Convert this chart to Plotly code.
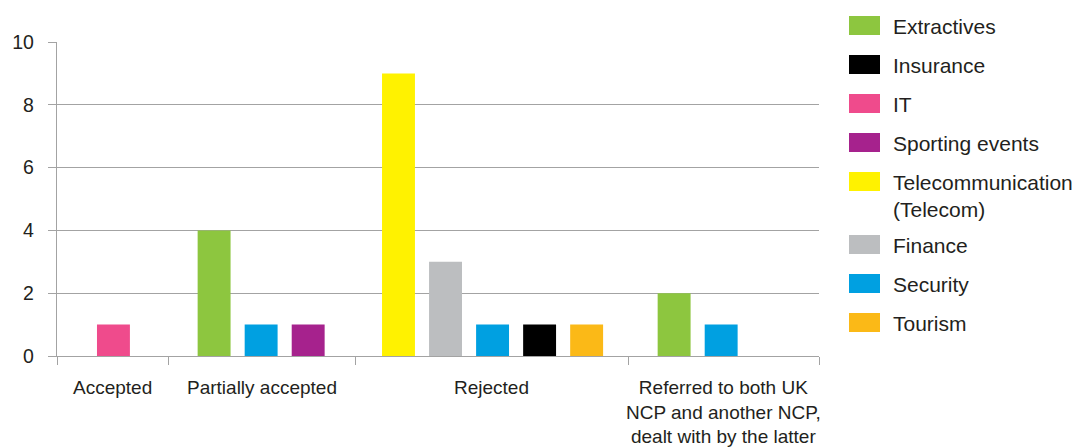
import plotly.graph_objects as go

# ---------------- data ----------------
categories = [
    "Accepted",
    "Partially accepted",
    "Rejected",
    "Referred to both UK<br>NCP and another NCP,<br>dealt with by the latter",
]
series_names = ["Extractives", "Insurance", "IT", "Sporting events",
                "Telecommunication<br>(Telecom)", "Finance", "Security", "Tourism"]
extractives = [0, 4, 0, 2]
insurance = [0, 0, 1, 0]
it = [1, 0, 0, 0]
sporting_events = [0, 1, 0, 0]
telecom = [0, 0, 9, 0]
finance = [0, 0, 3, 0]
security = [0, 1, 1, 1]
tourism = [0, 0, 1, 0]
series_values = [extractives, insurance, it, sporting_events, telecom, finance, security, tourism]
y_ticks = [0, 2, 4, 6, 8, 10]

# ---------------- style / layout ----------------
series_colors = ["#8DC63F", "#000000", "#EF4B8C", "#A6228D",
                 "#FFF200", "#BCBEC0", "#00A0E1", "#FBB917"]
# left-to-right order of bars inside every category group (index into series)
bar_order = [0, 4, 5, 6, 1, 7, 3, 2]
# group geometry in "slot" units (one slot = one bar position)
group_span = [2.37, 3.97, 5.81, 4.05]
group_lead = [0.70, 0.47, 0.42, 0.47]
bar_width = 0.70

text_color = "#231F20"
line_color = "#A3A3A3"
FONT = "Liberation Sans, Arial, sans-serif"

# group boundaries
bounds = [0.0]
for s in group_span:
    bounds.append(bounds[-1] + s)

# compute bar positions per series
xs = {i: [] for i in range(len(series_names))}
ys = {i: [] for i in range(len(series_names))}
for g in range(len(categories)):
    k = 0
    for si in bar_order:
        v = series_values[si][g]
        if v:
            xs[si].append(bounds[g] + group_lead[g] + 0.5 + k)
            ys[si].append(v)
            k += 1

fig = go.Figure()
for si, name in enumerate(series_names):
    fig.add_trace(go.Bar(
        x=xs[si], y=ys[si], name=name.replace("<br>", " "),
        marker=dict(color=series_colors[si], line=dict(width=0)),
        width=bar_width, showlegend=False,
    ))

# category labels
annotations = []
for g, cat in enumerate(categories):
    annotations.append(dict(
        x=(bounds[g] + bounds[g + 1]) / 2, xref="x",
        y=0, yref="paper", yshift=-19, yanchor="top", xanchor="center",
        text=cat, showarrow=False, align="center",
        font=dict(family=FONT, size=19, color=text_color),
    ))

# custom legend
shapes = []
row_y = 25.5
plot_top = 42
for si, name in enumerate(series_names):
    nlines = name.count("<br>") + 1
    shapes.append(dict(
        type="rect", xref="paper", yref="paper",
        xsizemode="pixel", ysizemode="pixel", xanchor=1, yanchor=1,
        x0=30, x1=61, y0=plot_top - row_y - 9.5, y1=plot_top - row_y + 9.5,
        fillcolor=series_colors[si], line=dict(width=0),
    ))
    block_center = row_y + (nlines - 1) * 13
    annotations.append(dict(
        x=1, xref="paper", xshift=72, xanchor="left",
        y=1, yref="paper", yshift=plot_top - block_center - 1, yanchor="middle",
        text=name, showarrow=False, align="left",
        font=dict(family=FONT, size=21, color=text_color),
    ))
    row_y += 39 + (nlines - 1) * 24

fig.update_layout(
    width=1079, height=448,
    margin=dict(l=51, r=260, t=42, b=92),
    plot_bgcolor="white", paper_bgcolor="white",
    barmode="overlay",
    shapes=shapes, annotations=annotations,
    font=dict(family=FONT, color=text_color),
    showlegend=False,
)
fig.update_xaxes(
    range=[bounds[0], bounds[-1]], showgrid=False, zeroline=False,
    showline=True, linecolor=line_color, linewidth=1.3,
    tickmode="array", tickvals=bounds, ticks="outside", ticklen=8,
    tickcolor=line_color, tickwidth=1.3, showticklabels=False,
)
fig.update_yaxes(
    range=[0, 10], tickmode="array", tickvals=y_ticks,
    showgrid=True, gridcolor=line_color, gridwidth=1.3, zeroline=False,
    showline=True, linecolor=line_color, linewidth=1.3,
    ticks="outside", ticklen=8, tickcolor=line_color, tickwidth=1.3,
    tickfont=dict(family=FONT, size=19.5, color=text_color),
    ticklabelstandoff=10,
)

fig.write_html("out.html")
